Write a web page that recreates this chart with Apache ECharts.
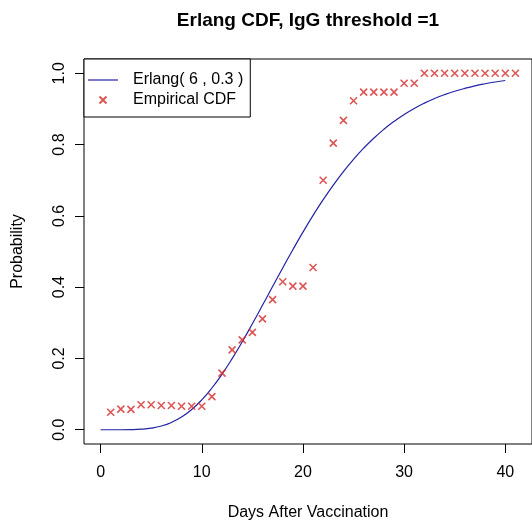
<!DOCTYPE html>
<html><head><meta charset="utf-8">
<script src="https://cdn.jsdelivr.net/npm/echarts@6/dist/echarts.min.js"></script>
<style>html,body{margin:0;padding:0;background:#fff}#c{width:532px;height:526px}</style>
</head><body><div id="c"></div>
<script>
const empiricalDays = [1,2,3,4,5,6,7,8,9,10,11,12,13,14,15,16,17,18,19,20,21,22,23,24,25,26,27,28,29,30,31,32,33,34,35,36,37,38,39,40,41];
const empiricalCDF = [0.049,0.058,0.057,0.070,0.070,0.068,0.068,0.066,0.066,0.066,0.093,0.159,0.224,0.252,0.273,0.311,0.365,0.415,0.403,0.403,0.455,0.700,0.804,0.868,0.923,0.947,0.947,0.947,0.947,0.972,0.972,1,1,1,1,1,1,1,1,1,1];
const curveDays = [0,1,2,3,4,5,6,7,8,9,10,11,12,13,14,15,16,17,18,19,20,21,22,23,24,25,26,27,28,29,30,31,32,33,34,35,36,37,38,39,40];
const curveCDF = [0,0,0,0.0003,0.0015,0.0045,0.0104,0.0205,0.0357,0.0567,0.0839,0.1171,0.1559,0.1994,0.2468,0.2971,0.3490,0.4016,0.4539,0.5050,0.5543,0.6012,0.6453,0.6863,0.7241,0.7586,0.7898,0.8178,0.8427,0.8648,0.8843,0.9014,0.9162,0.9290,0.9401,0.9496,0.9577,0.9647,0.9705,0.9755,0.9797];
const xTicks = [0,10,20,30,40];
const yTicks = [0,0.2,0.4,0.6,0.8,1.0];
const lineName = 'Erlang( 6 , 0.3 )';
const pointName = 'Empirical CDF';

const FONT = 'Liberation Sans, Arial, sans-serif';
const RED = '#d42c2c';
const BLUE = '#2323a6';
const crossPath = 'path://M0,0M4,4L12,12M12,4L4,12M16,16';
const lineIcon = 'path://M0,0L30,0L30,1.2L0,1.2Z';

const chart = echarts.init(document.getElementById('c'), null, {renderer: 'canvas'});
chart.setOption({
  animation: false,
  backgroundColor: '#fff',
  textStyle: {fontFamily: FONT, color: '#000'},
  title: {
    text: 'Erlang CDF, IgG threshold =1',
    left: 308, top: 11, textAlign: 'center', padding: 0,
    textStyle: {fontFamily: FONT, fontSize: 19, fontWeight: 'bold', color: '#000'}
  },
  grid: {left: 84, top: 59, width: 461, height: 391, show: true, borderColor: '#000', borderWidth: 1, containLabel: false},
  legend: {
    show: true, orient: 'vertical', left: 84, top: 59,
    padding: [13, 7, 9, 4], itemWidth: 30, itemHeight: 14, itemGap: 4,
    borderColor: '#000', borderWidth: 1, backgroundColor: '#fff',
    selectedMode: false,
    textStyle: {fontFamily: FONT, fontSize: 16, color: '#000', lineHeight: 16, padding: [0, 0, 0, 10]},
    data: [{name: lineName, icon: lineIcon, itemStyle: {color: BLUE}}, pointName]
  },
  xAxis: {
    type: 'value', min: -1.64, max: 42.64,
    name: 'Days After Vaccination', nameLocation: 'middle', nameGap: 61,
    nameTextStyle: {fontFamily: FONT, fontSize: 16, color: '#000'},
    axisLine: {show: false, onZero: false},
    axisTick: {show: true, customValues: xTicks, length: 9, lineStyle: {color: '#000', width: 1}},
    axisLabel: {customValues: xTicks, margin: 21, fontSize: 16, color: '#000', fontFamily: FONT, formatter: v => String(v)},
    splitLine: {show: false}
  },
  yAxis: {
    type: 'value', min: -0.04, max: 1.04,
    name: 'Probability', nameLocation: 'middle', nameGap: 58,
    nameTextStyle: {fontFamily: FONT, fontSize: 16, color: '#000'},
    axisLine: {show: false, onZero: false},
    axisTick: {show: true, customValues: yTicks, length: 9, lineStyle: {color: '#000', width: 1}},
    axisLabel: {customValues: yTicks, rotate: 90, margin: 16, fontSize: 16, color: '#000', fontFamily: FONT, formatter: v => v.toFixed(1)},
    splitLine: {show: false}
  },
  series: [
    {
      name: lineName, type: 'line',
      data: curveDays.map((d, i) => [d, curveCDF[i]]),
      symbol: 'none', showSymbol: false, smooth: 0.5,
      lineStyle: {color: BLUE, width: 1.2},
      itemStyle: {color: BLUE},
      z: 2
    },
    {
      name: pointName, type: 'scatter',
      data: empiricalDays.map((d, i) => [d, empiricalCDF[i]]),
      symbol: crossPath, symbolSize: 14,
      itemStyle: {color: RED, borderColor: RED, borderWidth: 1.6},
      z: 3
    }
  ]
});
</script>
</body></html>
